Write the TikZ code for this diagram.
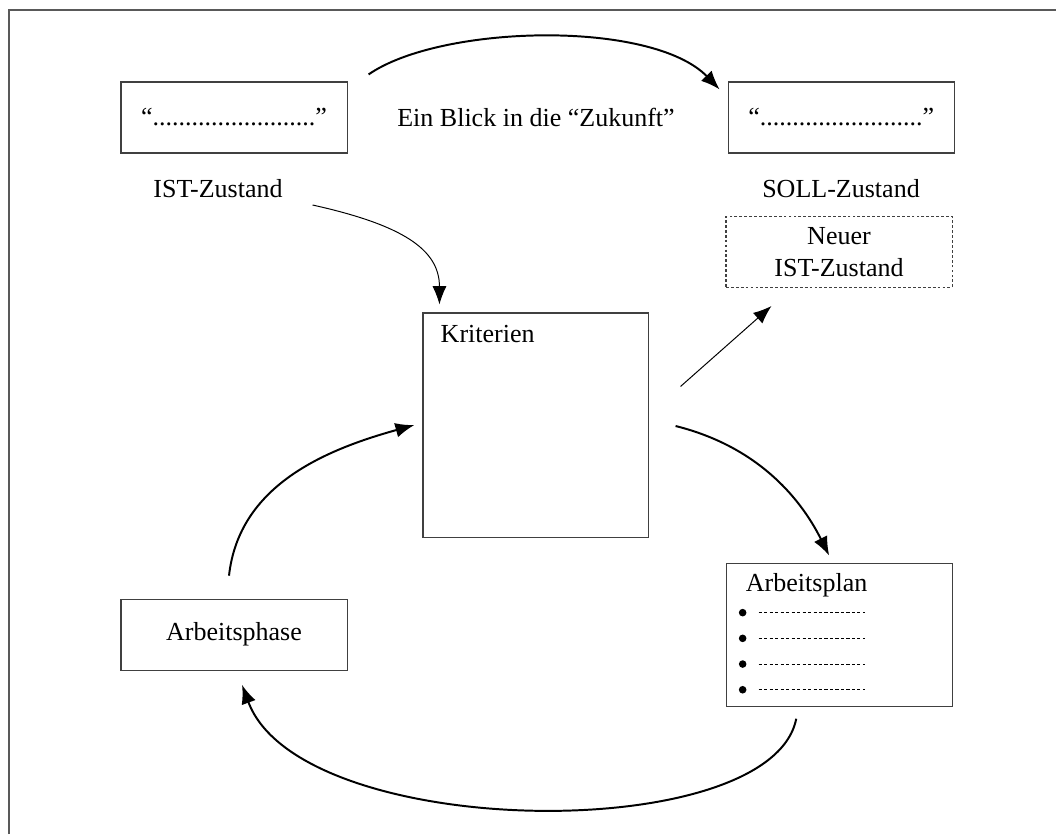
\documentclass[tikz,border=0pt]{standalone}
\usepackage{fontspec}
\setmainfont{Liberation Serif}
\usetikzlibrary{arrows.meta,positioning}
\newcommand{\boxwidth}{5.65cm}
\newcommand{\dotline}{“.........................”}
\tikzset{
    zustand/.style = { draw=black!75, line width=0.75pt, rectangle, align=center,
        minimum width = \boxwidth,
        minimum height = 1.775cm,
        inner sep = 0pt
    },
    inner_text/.style = { anchor=west, inner sep=0pt },
    dash_line/.style = { dash pattern=on 2.2pt off 1.7pt, line width=0.5pt },
    rahmen/.style = { draw=black!65, line width=1.2pt },
    arrow/.style = { -{Latex[length=13.5pt,width=10.5pt]}, line width=1.4pt },
    thin_arrow/.style = { -{Latex[length=13pt,width=10pt]}, line width=0.7pt }
}
\begin{document}
\begin{tikzpicture}[x=0.025cm, y=-0.025cm, font=\fontsize{18.5}{20}\selectfont]
        \useasboundingbox (0,0) rectangle (1056,834);
        \draw[rahmen] (9,834) -- (9,10) -- (1056,10);

        % IST and SOLL...
        \node[zustand] (ist) at (234,117.5) {\dotline};
        \node[zustand] (soll) [right = 9.5cm of ist] {\dotline};
        \node (blick) at (536,117) {Ein Blick in die “Zukunft”};
        \node (ist_label) at (218,189) {IST-Zustand};
        \node (soll_label) at (841,189) {SOLL-Zustand};
        \node[zustand, dash pattern=on 2pt off 1.5pt] (neu) at (839,252) {Neuer\\[3pt] IST-Zustand};
        \draw[arrow] ([shift={(21,-7)}]ist.north east) .. controls +(72,-50) and +(-68,-70) .. ([shift={(-8,8)}]soll.north west);

        % cycle...
        \node[zustand, minimum width = 5.625cm, minimum height = 5.6cm] (krit) at (535.5,425) {};
        \node[inner_text] (krit_text) at ([shift={(18,22)}]krit.north west) {Kriterien};
        \node[zustand] (phase) [below = 11.125cm of ist] {Arbeitsphase};
        \node[zustand, minimum height = 3.575cm] (plan) [right = 9.45cm of phase] {};
        \node[inner_text] (plan_text) at ([shift={(20,23)}]plan.north west) {Arbeitsplan};
        \foreach \i in {0,...,3} {
            \fill ([shift={(17,50+25.7*\i)}]plan.north west) circle (3.8);
            \draw[dash_line] ([shift={(33,50+25.7*\i)}]plan.north west) -- ++(106,0);
        }

        \draw[thin_arrow] ([shift={(25,16)}]ist_label.east) .. controls +(90,20) and +(0,-55) .. ([shift={(17,-8)}]krit.north west);
        \draw[thin_arrow] ([shift={(32,74)}]krit.north east) -- ([shift={(46,18)}]neu.south west);
        \draw[arrow] ([shift={(27,1)}]krit.east) .. controls +(80,20) and +(-30,-60) .. ([shift={(-10,-7)}]plan.north);
        \draw[arrow] ([shift={(-43,12)}]plan.south) .. controls +(-25,128) and +(58,157) .. ([shift={(8,14)}]phase.south);
        \draw[arrow] ([shift={(-5,-23)}]phase.north) .. controls +(10,-90) and +(-90,25) .. ([shift={(-8,0)}]krit.west);
\end{tikzpicture}
\end{document}
